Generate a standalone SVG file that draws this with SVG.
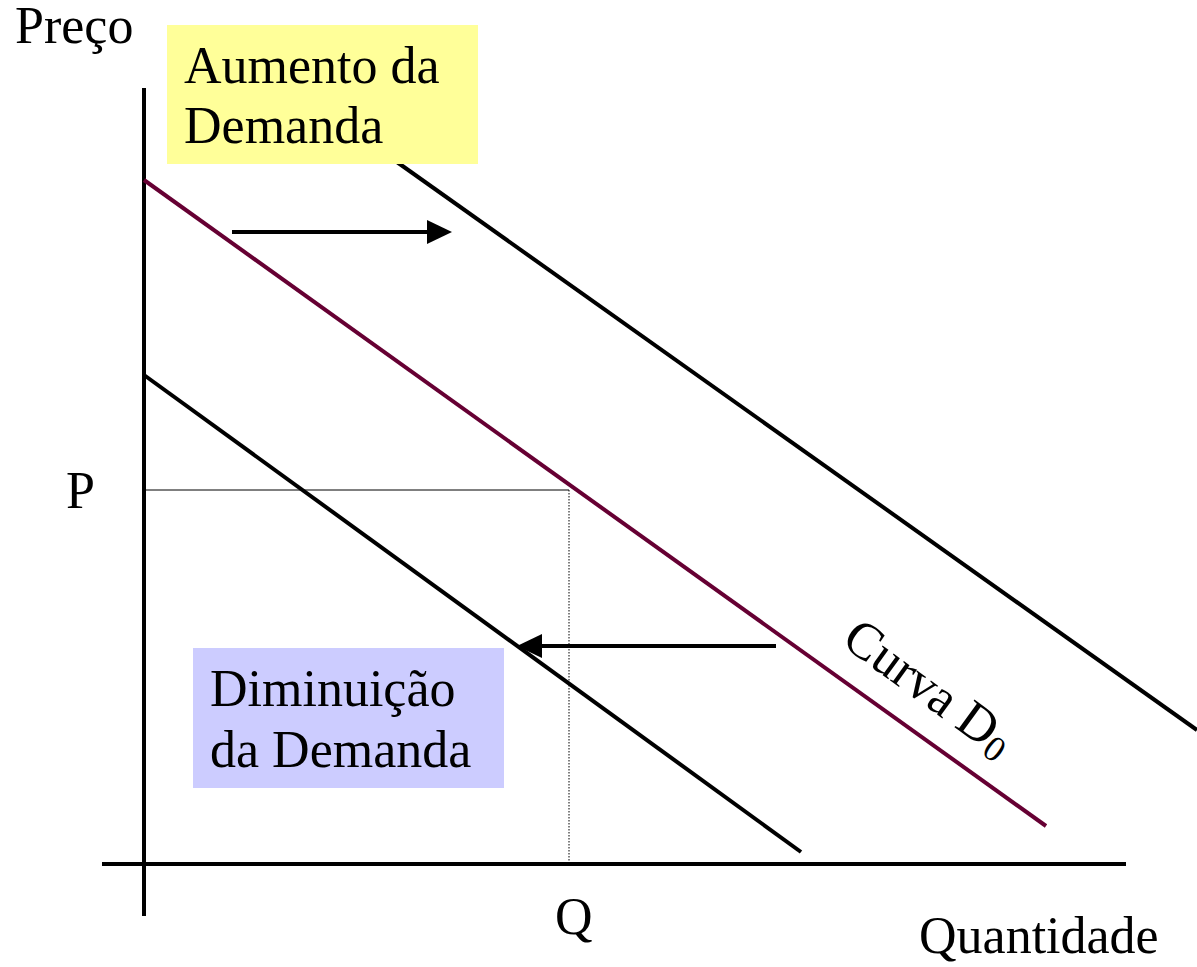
<svg xmlns="http://www.w3.org/2000/svg" width="1197" height="967" viewBox="0 0 1197 967">
<style>
text{font-family:'Liberation Serif','Times New Roman',serif;font-size:52px;fill:#000}
.ax{stroke:#000;stroke-width:4;fill:none}
.crv{stroke:#000;stroke-width:4;fill:none}
.arr{stroke:#000;stroke-width:4;fill:none}
</style>
<rect width="1197" height="967" fill="#fff"/>
<g id="axes">
<line class="ax" x1="144" y1="88" x2="144" y2="916"/>
<line class="ax" x1="102" y1="864" x2="1126" y2="864"/>
<line x1="144" y1="490" x2="569" y2="490" stroke="#000" stroke-width="1"/>
<line x1="569" y1="490" x2="569" y2="864" stroke="#000" stroke-width="1" stroke-dasharray="1.5,1.5"/>
</g>
<g id="curve-up">
<line class="crv" x1="380" y1="150" x2="1197" y2="730"/>
</g>
<g id="curve-d0">
<line x1="144" y1="180" x2="1046" y2="826" stroke="#660033" stroke-width="4"/>
</g>
<g id="curve-down">
<line class="crv" x1="144" y1="375" x2="801" y2="852"/>
</g>
<g id="connectors">
<line class="arr" x1="232" y1="232" x2="428" y2="232"/>
<path d="M427,220 L452,232 L427,244 Z" fill="#000"/>
<line class="arr" x1="776" y1="646" x2="540" y2="646"/>
<path d="M542,634 L517,646 L542,658 Z" fill="#000"/>
</g>
<g id="label-aumento">
<rect x="167" y="25" width="311" height="139" fill="#FFFF99"/>
<text x="184" y="83">Aumento da</text>
<text x="184" y="143">Demanda</text>
</g>
<g id="label-diminuicao">
<rect x="193" y="648" width="311" height="140" fill="#CCCCFF"/>
<text x="210" y="706">Diminuição</text>
<text x="210" y="767">da Demanda</text>
</g>
<g id="labels">
<text x="15" y="43">Preço</text>
<text x="66" y="508">P</text>
<text x="555" y="934">Q</text>
<text x="919" y="953">Quantidade</text>
<text transform="translate(840,644) rotate(36)">Curva D<tspan font-size="36" dy="6">0</tspan></text>
</g>
</svg>
